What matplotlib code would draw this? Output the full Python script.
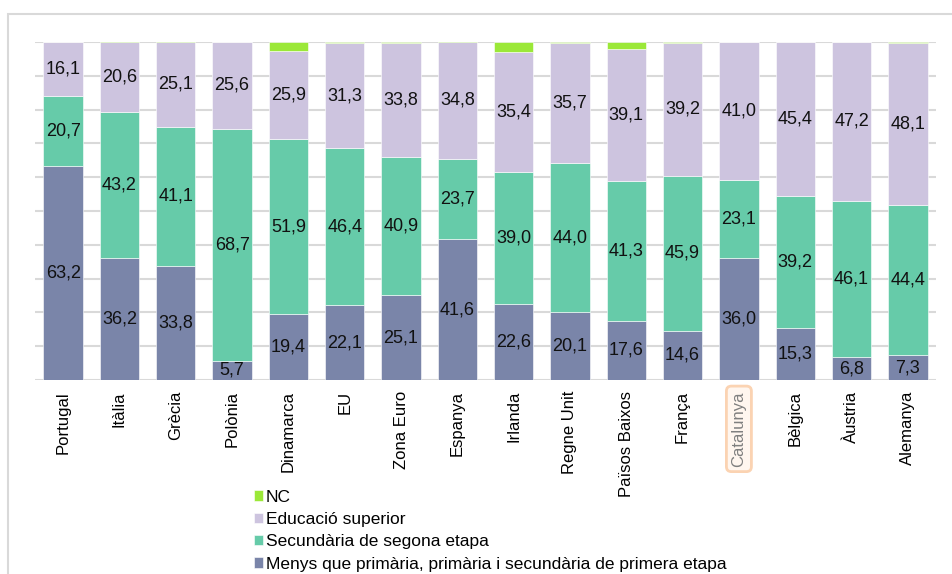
import numpy as np
import matplotlib.pyplot as plt
from matplotlib.patches import Rectangle

plt.rcParams['font.family'] = ['Liberation Sans', 'DejaVu Sans']

# dades
paisos = ['Portugal', 'Itàlia', 'Grècia', 'Polònia', 'Dinamarca', 'EU', 'Zona Euro', 'Espanya',
          'Irlanda', 'Regne Unit', 'Països Baixos', 'França', 'Catalunya', 'Bèlgica', 'Àustria', 'Alemanya']
menys = [63.2, 36.2, 33.8, 5.7, 19.4, 22.1, 25.1, 41.6, 22.6, 20.1, 17.6, 14.6, 36.0, 15.3, 6.8, 7.3]
secundaria = [20.7, 43.2, 41.1, 68.7, 51.9, 46.4, 40.9, 23.7, 39.0, 44.0, 41.3, 45.9, 23.1, 39.2, 46.1, 44.4]
superior = [16.1, 20.6, 25.1, 25.6, 25.9, 31.3, 33.8, 34.8, 35.4, 35.7, 39.1, 39.2, 41.0, 45.4, 47.2, 48.1]
nc = [0.0, 0.3, 0.3, 0.0, 2.8, 0.2, 0.2, 0.3, 3.0, 0.2, 2.0, 0.3, 0.0, 0.1, 0.0, 0.3]

noms = ['Menys que primària, primària i secundària de primera etapa',
        'Secundària de segona etapa', 'Educació superior', 'NC']
colors = ['#7a85a9', '#66cba9', '#cdc4df', '#9be838']

fig = plt.figure(figsize=(9.52, 5.74), dpi=100)
fig.patches.append(Rectangle((8/952, -0.1), 1.1, 1 - 14/574 + 0.1, transform=fig.transFigure,
                             fill=False, edgecolor='#d9d9d9', linewidth=1.5))
ax = fig.add_axes([35/952, 1 - 380/574, 901/952, 338/574])

x = np.arange(len(paisos))
series = [menys, secundaria, superior, nc]
bottom = np.zeros(len(paisos))
handles = []
for vals, nom, c in zip(series, noms, colors):
    vals = np.array(vals)
    b = ax.bar(x, vals, 0.7, bottom=bottom, color=c, edgecolor='white', linewidth=0.4, label=nom, zorder=3)
    handles.append(b)
    if nom != 'NC':
        for xi, v, b0 in zip(x, vals, bottom):
            ax.text(xi, b0 + v / 2, f'{v:.1f}'.replace('.', ','), ha='center', va='center',
                    fontsize=13, color='#111111', zorder=4)
    bottom += vals

ax.set_xlim(-0.5, len(paisos) - 0.5)
ax.set_ylim(0, 100)
ax.set_yticks(np.arange(0, 101, 10))
ax.yaxis.grid(True, color='#d9d9d9', linewidth=1.5, zorder=0)
ax.set_yticklabels([])
ax.tick_params(axis='y', length=0)
ax.tick_params(axis='x', length=0, pad=8)
for s in ax.spines.values():
    s.set_visible(False)
ax.set_xticks(x)
ax.set_xticklabels(paisos, rotation=90, fontsize=12, ha='center', va='top')
for lbl in ax.get_xticklabels():
    if lbl.get_text() == 'Catalunya':
        lbl.set_color('#7f7f7f')
        lbl.set_bbox(dict(boxstyle='round,pad=0.3,rounding_size=0.3', facecolor='#fff6ef',
                          edgecolor='#fbd3b2', linewidth=2))

leg = fig.legend(handles[::-1], noms[::-1], loc='upper left', bbox_to_anchor=(245/952, 1 - 481/574),
                 frameon=False, fontsize=12.5, handlelength=0.55, handleheight=0.55, handletextpad=0.15,
                 labelspacing=0.42, borderpad=0)

fig.savefig('out.png', dpi=100)
